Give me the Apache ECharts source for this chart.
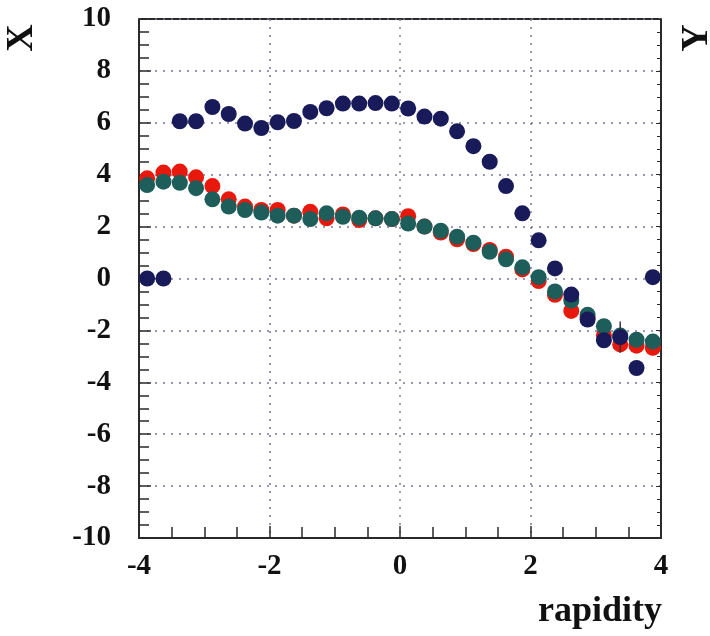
<!DOCTYPE html>
<html>
<head>
<meta charset="utf-8">
<script src="https://cdn.jsdelivr.net/npm/echarts@6/dist/echarts.min.js"></script>
<style>html,body{margin:0;padding:0;background:#fff}#c{width:710px;height:636px}</style>
</head>
<body>
<div id="c"></div>
<script>
var rapidity = [-3.875,-3.625,-3.375,-3.125,-2.875,-2.625,-2.375,-2.125,-1.875,-1.625,-1.375,-1.125,-0.875,-0.625,-0.375,-0.125,
                0.125,0.375,0.625,0.875,1.125,1.375,1.625,1.875,2.125,2.375,2.625,2.875,3.125,3.375,3.625,3.875];
var seriesBlue = [0,0,6.06,6.06,6.61,6.34,5.97,5.80,6.02,6.07,6.42,6.56,6.74,6.74,6.76,6.74,
                  6.55,6.24,6.16,5.67,5.10,4.50,3.56,2.51,1.47,0.39,-0.62,-1.58,-2.38,-2.26,-3.45,0.05];
var errBlue =    [0,0,0,0,0,0,0,0,0,0,0,0,0,0,0,0,0,0,0,0,0,0,0,0,0,0,0,0,0,0.6,0,0];
var seriesTeal = [3.60,3.73,3.69,3.48,3.05,2.77,2.64,2.54,2.42,2.42,2.29,2.51,2.38,2.34,2.32,2.29,
                  2.12,2.00,1.84,1.61,1.38,1.03,0.74,0.43,0.05,-0.50,-0.85,-1.40,-1.84,-2.20,-2.36,-2.43];
var seriesRed =  [3.86,4.08,4.12,3.90,3.56,3.05,2.77,2.64,2.64,2.42,2.57,2.32,2.47,2.25,2.32,2.29,
                  2.40,2.00,1.77,1.51,1.33,1.10,0.84,0.35,-0.10,-0.63,-1.25,-1.50,-2.19,-2.54,-2.59,-2.67];
var xTicks = [-4,-2,0,2,4];
var yTicks = [-10,-8,-6,-4,-2,0,2,4,6,8,10];

function pts(ys){ return rapidity.map(function(x,i){return [x, ys[i]];}); }
var errData = rapidity.map(function(x,i){return [x, seriesBlue[i]-errBlue[i], seriesBlue[i]+errBlue[i]];})
  .filter(function(d){return d[2]-d[1]>0;});

var font = '"Liberation Serif","DejaVu Serif",serif';
var gridLine = {show:true, lineStyle:{color:'#7f7499', type:[2,6], width:1.5}};
var chart = echarts.init(document.getElementById('c'), null, {renderer:'canvas'});
chart.setOption({
  animation:false,
  backgroundColor:'#ffffff',
  grid:{left:139, right:49, top:19, bottom:98, show:false},
  xAxis:{
    type:'value', min:-4, max:4, interval:2,
    axisLine:{show:true, onZero:false, lineStyle:{color:'#2a2a2a', width:2}},
    axisTick:{show:true, inside:true, length:12, lineStyle:{color:'#2a2a2a', width:1.5}},
    minorTick:{show:true, splitNumber:4, length:11, lineStyle:{color:'#2a2a2a', width:1.5}},
    splitLine:gridLine,
    axisLabel:{color:'#111', fontFamily:font, fontWeight:'bold', fontSize:29, margin:14,
      formatter:function(v){return xTicks.indexOf(v)>=0? String(v):'';}}
  },
  yAxis:[{
    type:'value', min:-10, max:10, interval:2,
    axisLine:{show:true, onZero:false, lineStyle:{color:'#2a2a2a', width:2}},
    axisTick:{show:true, inside:true, length:12, lineStyle:{color:'#2a2a2a', width:1.5}},
    minorTick:{show:true, splitNumber:4, length:10, lineStyle:{color:'#2a2a2a', width:1.5}},
    splitLine:gridLine,
    axisLabel:{color:'#111', fontFamily:font, fontWeight:'bold', fontSize:29, margin:28,
      formatter:function(v){return yTicks.indexOf(v)>=0? String(v):'';}}
  },{
    type:'value', min:-10, max:10, interval:2, position:'right',
    axisLine:{show:true, onZero:false, lineStyle:{color:'#2a2a2a', width:2}},
    axisTick:{show:true, inside:true, length:5, lineStyle:{color:'#2a2a2a', width:1}},
    minorTick:{show:true, splitNumber:4, length:4, lineStyle:{color:'#2a2a2a', width:1}},
    splitLine:{show:false}, axisLabel:{show:false}
  }],
  graphic:[
    {type:'line', shape:{x1:139,y1:19,x2:661,y2:19}, style:{stroke:'#2a2a2a', lineWidth:2}},
    {type:'text', x:22, y:38, rotation:Math.PI/2, style:{text:'X', font:'bold 38px '+font, fill:'#111', textAlign:'center', textVerticalAlign:'middle'}},
    {type:'text', x:697, y:38, rotation:Math.PI/2, style:{text:'Y', font:'bold 38px '+font, fill:'#111', textAlign:'center', textVerticalAlign:'middle'}},
    {type:'text', x:662, y:612, style:{text:'rapidity', font:'bold 36px '+font, fill:'#111', textAlign:'right', textVerticalAlign:'middle'}}
  ],
  series:[
    {type:'scatter', data:pts(seriesRed), symbolSize:16, itemStyle:{color:'#e8180c', opacity:1}, z:3},
    {type:'scatter', data:pts(seriesTeal), symbolSize:16, itemStyle:{color:'#1d5e5b', opacity:1}, z:4},
    {type:'custom', data:errData, z:5,
      renderItem:function(params, api){
        var lo = api.coord([api.value(0), api.value(1)]);
        var hi = api.coord([api.value(0), api.value(2)]);
        return {type:'line', shape:{x1:lo[0],y1:lo[1],x2:hi[0],y2:hi[1]}, style:{stroke:'#333', lineWidth:1.5}};
      }},
    {type:'scatter', data:pts(seriesBlue), symbolSize:16, itemStyle:{color:'#181a5a', opacity:1}, z:6}
  ]
});
</script>
</body>
</html>
